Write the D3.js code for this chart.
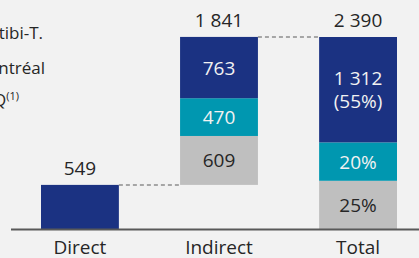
<!DOCTYPE html>
<html>
<head>
<meta charset="utf-8">
<script src="https://cdn.jsdelivr.net/npm/d3@7"></script>
<style>
  html, body { margin: 0; padding: 0; background: #f2f2f2; }
  svg { display: block; font-family: "Open Sans", sans-serif; }
</style>
</head>
<body>
<div id="chart"></div>
<script>
// values
const categories = ['Direct', 'Indirect', 'Total'];
const baseValues = [0, 549, 0];          // waterfall offset
const grayValues = [0, 609, 600];
const tealValues = [0, 470, 478];
const navyValues = [549, 763, 1312];
const totalLabels = ['549', '1 841', '2 390'];
const grayLabels = ['', '609', '25%'];
const tealLabels = ['', '470', '20%'];
const navyLabels = [[], ['763'], ['1 312', '(55%)']];
const legendLabels = ['Abitibi-T.', 'Montréal', 'RMQ'];

const width = 419, height = 258;
const colors = {gray: '#bfbfbf', teal: '#0097b0', navy: '#1b3282'};

const svg = d3.select('#chart')
  .append('svg')
  .attr('width', width)
  .attr('height', height);

svg.append('rect')
  .attr('width', width)
  .attr('height', height)
  .attr('fill', '#f2f2f2');

const x = d3.scaleBand()
  .domain(categories)
  .range([41, 397])
  .paddingInner(0.44)
  .paddingOuter(0);

const y = d3.scaleLinear()
  .domain([0, 2390])
  .range([229, 37]);

// build stacked segments
const segments = [];
categories.forEach((c, i) => {
  let start = baseValues[i];
  [['gray', grayValues, grayLabels], ['teal', tealValues, tealLabels], ['navy', navyValues, navyLabels]]
    .forEach(([key, vals, labels]) => {
      const v = vals[i];
      if (v > 0) {
        const lab = Array.isArray(labels[i]) ? labels[i] : (labels[i] ? [labels[i]] : []);
        segments.push({cat: c, key: key, y0: start, y1: start + v, labels: lab});
      }
      start += v;
    });
});

svg.selectAll('.bar')
  .data(segments)
  .enter().append('rect')
  .attr('class', 'bar')
  .attr('x', d => x(d.cat))
  .attr('y', d => y(d.y1))
  .attr('width', x.bandwidth())
  .attr('height', d => y(d.y0) - y(d.y1))
  .attr('fill', d => colors[d.key]);

// labels inside segments
const segText = svg.selectAll('.seg-label')
  .data(segments.filter(d => d.labels.length))
  .enter().append('text')
  .attr('class', 'seg-label')
  .attr('text-anchor', 'middle')
  .attr('font-size', 19)
  .attr('fill', d => d.key === 'gray' ? '#262626' : '#f2f2f2');

segText.each(function(d) {
  const cy = (y(d.y0) + y(d.y1)) / 2;
  const n = d.labels.length;
  const lineH = 23;
  d3.select(this).selectAll('tspan')
    .data(d.labels)
    .enter().append('tspan')
    .attr('x', x(d.cat) + x.bandwidth() / 2)
    .attr('y', (t, j) => cy + 7 + (j - (n - 1) / 2) * lineH)
    .text(t => t);
});

// totals above bars
svg.selectAll('.total-label')
  .data(categories)
  .enter().append('text')
  .attr('class', 'total-label')
  .attr('x', d => x(d) + x.bandwidth() / 2)
  .attr('y', (d, i) => y(baseValues[i] + grayValues[i] + tealValues[i] + navyValues[i]) - 10)
  .attr('text-anchor', 'middle')
  .attr('font-size', 19)
  .attr('fill', '#262626')
  .text((d, i) => totalLabels[i]);

// dashed connectors
const connectors = [
  {from: 'Direct', to: 'Indirect', value: navyValues[0]},
  {from: 'Indirect', to: 'Total', value: baseValues[1] + grayValues[1] + tealValues[1] + navyValues[1]}
];
svg.selectAll('.connector')
  .data(connectors)
  .enter().append('line')
  .attr('class', 'connector')
  .attr('x1', d => x(d.from) + x.bandwidth())
  .attr('x2', d => x(d.to))
  .attr('y1', d => y(d.value))
  .attr('y2', d => y(d.value))
  .attr('stroke', '#a6a6a6')
  .attr('stroke-width', 2)
  .attr('stroke-dasharray', '4,3');

// x axis
const xAxis = d3.axisBottom(x).tickSize(0).tickPadding(12);
const xGroup = svg.append('g')
  .attr('transform', 'translate(0,' + y(0) + ')')
  .call(xAxis);
xGroup.select('.domain').remove();
xGroup.selectAll('text')
  .attr('font-size', 19)
  .attr('font-family', '"Open Sans", sans-serif')
  .attr('fill', '#262626');

svg.append('line')
  .attr('x1', 11)
  .attr('x2', width)
  .attr('y1', y(0) + 0.5)
  .attr('y2', y(0) + 0.5)
  .attr('stroke', '#595959')
  .attr('stroke-width', 2);

// legend text (clipped at the left edge)
const legendEnds = [43, 45, 19];
const legendY = [39, 73.5, 106];
legendLabels.forEach((l, i) => {
  const t = svg.append('text')
    .attr('x', legendEnds[i])
    .attr('y', legendY[i])
    .attr('text-anchor', 'end')
    .attr('font-size', 17)
    .attr('fill', '#262626')
    .text(l);
  if (i === 2) {
    t.append('tspan')
      .attr('dy', -6)
      .attr('font-size', 11)
      .text('(1)');
  }
});
</script>
</body>
</html>
